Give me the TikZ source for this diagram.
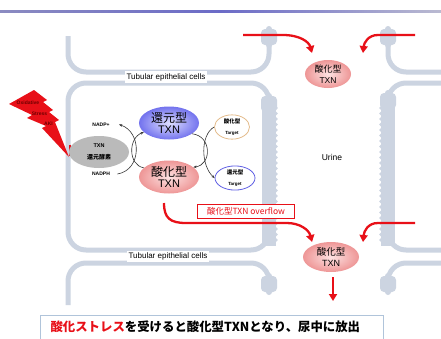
\documentclass[tikz,border=0pt]{standalone}
\usepackage{fontspec}
\setmainfont{Liberation Sans}
\newfontfamily\jp{Noto Sans CJK JP}
\usetikzlibrary{arrows.meta,shapes.geometric}
\definecolor{cellgrey}{RGB}{204,212,225}
\definecolor{alertred}{RGB}{232,16,24}
\definecolor{pinkin}{RGB}{253,226,226}
\definecolor{pinkout}{RGB}{238,150,150}
\definecolor{bluein}{RGB}{222,222,255}
\definecolor{blueout}{RGB}{115,115,238}
\definecolor{oxrim}{RGB}{228,188,140}
\definecolor{redrim}{RGB}{96,96,228}
\definecolor{framegrey}{RGB}{176,196,218}
\definecolor{bolttext}{RGB}{110,0,0}
\tikzset{
  cell/.style={draw=cellgrey, line width=5pt, rounded corners=18pt},
  redarrow/.style={draw=alertred, line width=2.3pt, -{Triangle[length=7pt,width=8pt]}},
  rxn/.style={draw=black!80, line width=0.6pt, -{Stealth[length=3.2pt,width=2.6pt]}},
  txnpink/.style={ellipse, shading=radial, inner color=pinkin, outer color=pinkout, align=center, inner sep=0pt},
  txnblue/.style={ellipse, shading=radial, inner color=bluein, outer color=blueout, align=center, inner sep=0pt},
  target/.style={ellipse, fill=white, line width=0.8pt, align=center, inner sep=0pt},
  celllabel/.style={fill=white, inner sep=2pt, font=\fontsize{8}{9}\selectfont},
  boltlabel/.style={text=bolttext, inner sep=0pt, font=\bfseries\fontsize{5}{6}\selectfont},
}
\begin{document}
\begin{tikzpicture}[x=1pt,y=-1pt]
\clip (0,0) rectangle (441,338);
\fill[white] (0,0) rectangle (441,338);

% header rule
\shade[left color=blue!30!gray!70, right color=blue!20!gray!45, middle color=blue!45!gray!80] (0,10.4) rectangle (441,12);

% ---- left column of tubular cells ----
\draw[cell] (68,36) -- (68,72) -- (269,72) -- (269,42);
\draw[cell] (269,104) -- (269,83) -- (68,83) -- (68,250) -- (269,250) -- (269,236);
\draw[cell] (68,305) -- (68,263) -- (269,263) -- (269,286);
% ---- right column of tubular cells ----
\draw[cell] (388,42) -- (388,72) -- (460,72);
\draw[cell] (388,104) -- (388,83) -- (460,83);
\draw[cell] (388,236) -- (388,250) -- (460,250);
\draw[cell] (460,263) -- (388,263) -- (388,286);

% apical brush borders
\fill[cellgrey] (262,106) rectangle (276,246);
\fill[cellgrey] (381,106) rectangle (395,246);
\foreach \yy in {108,113.5,...,244} {
  \fill[cellgrey] (276,\yy) circle (1.9);
  \fill[cellgrey] (381,\yy) circle (1.9);
}
% junction knobs
\foreach \xx/\yy in {269/37, 269/104, 269/284, 388/37, 388/101, 388/284} {
  \fill[cellgrey, rounded corners=4pt] (\xx-8,\yy-8) rectangle (\xx+8,\yy+8);
  \fill[cellgrey] (\xx,\yy-8) circle (3);
  \fill[cellgrey] (\xx,\yy+8) circle (3);
}

% cell labels
\node[celllabel] (celltop) at (166,77) {Tubular epithelial cells};
\node[celllabel] (cellbot) at (168,256.5) {Tubular epithelial cells};
\node (urine) at (332,157) {\fontsize{8.5}{9}\selectfont Urine};

% oxidative stress bolt
\fill[alertred] (34,90) -- (47,100) -- (43,102) -- (53,110) -- (49,112) -- (59,120) -- (55,122)
  -- (69,157) -- (42,128) -- (46,126) -- (27,118) -- (32,115) -- (9,104) -- cycle;
\node[boltlabel] (oxs) at (28,103) {Oxidative};
\node[boltlabel] (str) at (39.5,113.5) {Stress};
\node[boltlabel] (aki) at (48.5,124) {AKI};
\draw[alertred, line width=2pt] (70,144.5) -- (70,156);

% TXN reductase
\node[ellipse, fill=black!27, minimum width=60pt, minimum height=32pt, inner sep=0pt, align=center] (red1) at (99,152)
  {\bfseries\fontsize{5.5}{6.5}\selectfont TXN\\[-0.5pt]\jp\bfseries\fontsize{6}{7}\selectfont 還元酵素};
\node[font=\bfseries\fontsize{5}{6}\selectfont] (nadpp) at (101,124.5) {NADP+};
\node[font=\bfseries\fontsize{5}{6}\selectfont] (nadph) at (101,174) {NADPH};

% TXN redox couple
\node[txnblue, minimum width=60pt, minimum height=33pt] (txnr) at (169,123)
  {\jp\fontsize{12}{13}\selectfont 還元型\\[-1pt]\fontsize{11}{12}\selectfont TXN};
\node[txnpink, minimum width=60pt, minimum height=33pt] (txno) at (169,177)
  {\jp\fontsize{12}{13}\selectfont 酸化型\\[-1pt]\fontsize{11}{12}\selectfont TXN};

% targets
\node[target, draw=oxrim, minimum width=35pt, minimum height=20pt] (tox) at (232,127)
  {\jp\bfseries\fontsize{5.5}{6}\selectfont 酸化型\\[-0.5pt]\bfseries\fontsize{4.5}{5}\selectfont Target};
\node[target, draw=redrim, minimum width=40pt, minimum height=21pt] (tred) at (235,178)
  {\jp\bfseries\fontsize{5.5}{6}\selectfont 還元型\\[-0.5pt]\bfseries\fontsize{4.5}{5}\selectfont Target};

% reaction arcs
\draw[rxn] ([xshift=4pt]nadph.east) .. controls (142,170) and (142,132) .. ([xshift=6pt]nadpp.east);
\draw[rxn] (txno.160) .. controls (128,165) and (128,138) .. (txnr.200);
\draw[rxn] (txnr.-25) .. controls (212,136) and (212,165) .. (txno.22);
\draw[rxn] (tox.west) .. controls (200,135) and (201,166) .. (tred.west);

% oxidised TXN in the urine
\node[txnpink, minimum width=46pt, minimum height=28pt] (txnu1) at (328,74)
  {\jp\fontsize{9}{10}\selectfont 酸化型\\[-1pt]\fontsize{8.5}{9}\selectfont TXN};
\node[txnpink, minimum width=56pt, minimum height=30pt] (txnu2) at (331,257)
  {\jp\fontsize{9.5}{10}\selectfont 酸化型\\[-1pt]\fontsize{9}{10}\selectfont TXN};

\coordinate (in1a) at (243,35);
\coordinate (in1b) at (415,35);
\coordinate (in2b) at (415,223);
\coordinate (ov0) at (164,203);
\coordinate (out) at (333,301);
\draw[redarrow] (in1a) -- (283,35) .. controls (300,35) and (309,42) .. (312,53);
\draw[redarrow] (in1b) -- (378,35) .. controls (368,35) and (364,43) .. (363,53);
\draw[redarrow] (ov0) .. controls (164,218) and (170,223) .. (186,223) -- (287,223)
  .. controls (300,223) and (309,230) .. (312,242);
\draw[redarrow] (in2b) -- (378,223) .. controls (368,223) and (364,231) .. (363,242);
\draw[redarrow] ([yshift=-5pt]txnu2.south) ++(2,0) -- (out);

\node[draw=alertred, line width=1.3pt, fill=white, text=alertred, minimum width=97pt, minimum height=13.5pt, inner sep=0pt] (ovf)
  at (246,211.5) {\jp\fontsize{8.5}{9}\selectfont 酸化型TXN overflow};

% caption
\draw[framegrey, line width=0.8pt, fill=white] (40.5,315.5) rectangle (383,345);
\node[font=\jp\bfseries\fontsize{12.4}{14}\selectfont, anchor=west] (cap) at (47,327)
  {\textcolor{alertred}{酸化ストレス}を受けると酸化型TXNとなり、尿中に放出};
\end{tikzpicture}
\end{document}
